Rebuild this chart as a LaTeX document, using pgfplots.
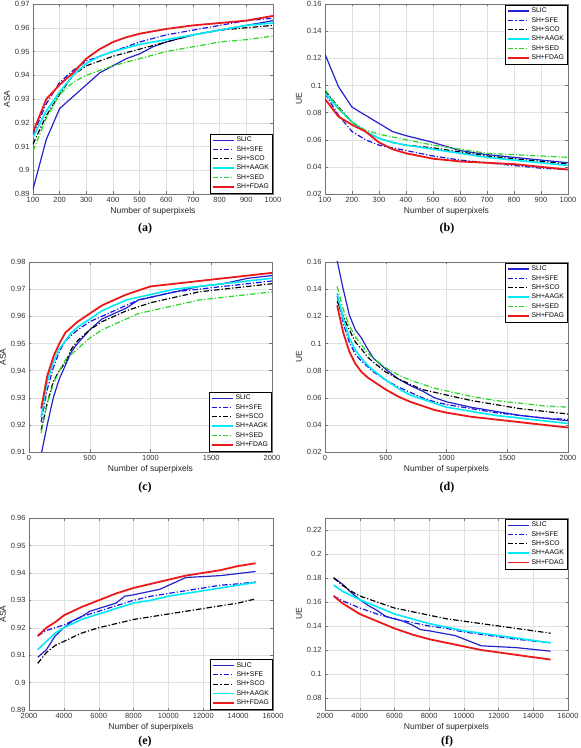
\documentclass[border=0pt]{standalone}
\usepackage{pgfplots}
\pgfplotsset{compat=1.18}
\usepackage{fontspec}
\setmainfont{Liberation Sans}
\newfontfamily\capfont{Liberation Serif}
\definecolor{cslic}{RGB}{35,35,205}
\definecolor{csfe}{RGB}{20,20,235}
\definecolor{csco}{RGB}{0,0,0}
\definecolor{caagk}{RGB}{0,235,245}
\definecolor{csed}{RGB}{40,215,40}
\definecolor{cfdag}{RGB}{235,25,25}
\tikzset{
 slic/.style={cslic, line width=1.2pt},
 sfe/.style={csfe, line width=1.2pt, dash pattern=on 5.5pt off 2pt on 1.2pt off 2pt},
 sco/.style={csco, line width=1.2pt, dash pattern=on 5.5pt off 2pt on 1.2pt off 2pt},
 aagk/.style={caagk, line width=1.6pt},
 sed/.style={csed, line width=1.2pt, dash pattern=on 5.5pt off 2pt on 1.2pt off 2pt},
 fdag/.style={cfdag, line width=1.8pt},
}
\pgfplotsset{panel/.style={
 scale only axis, width=243pt, height=190pt,
 grid=major, major grid style={black!12, line width=0.4pt},
 tick align=inside, major tick length=2.5pt,
 axis line style={black!55, line width=0.5pt},
 tick style={black!55, line width=0.4pt},
 ticklabel style={font=\fontsize{7.5}{8}\selectfont, text=black!80},
 label style={font=\fontsize{8.5}{9}\selectfont, text=black!85},
 /pgf/number format/assume math mode=true,
 scaled ticks=false,
 xticklabel style={/pgf/number format/.cd, fixed, 1000 sep={}},
 yticklabel style={/pgf/number format/.cd, fixed, precision=2},
 xlabel={Number of superpixels},
 xlabel style={yshift=2pt},
 ylabel style={yshift=-2pt},
 legend cell align=left,
 legend style={font=\fontsize{6.8}{7.5}\selectfont, draw=black, line width=0.4pt, fill=white,
   inner sep=1.5pt, row sep=-0.3pt, nodes={inner sep=1.7pt}},
 legend image code/.code={\draw[##1] (0pt,0pt) -- (21pt,0pt);},
}}
\begin{document}
\begin{tikzpicture}
\path[use as bounding box] (0,0) rectangle (581pt,748pt);
% (a)
\begin{axis}[panel, at={(33pt,554pt)}, anchor=south west, width=240pt, height=190pt,
 xmin=100, xmax=1000, ymin=0.89, ymax=0.97,
 xtick={100,200,...,1000}, ytick={0.89,0.9,0.91,0.92,0.93,0.94,0.95,0.96,0.97},
 ylabel={ASA}, legend pos=south east, legend style={at={(0.997,0.003)}}]
\addplot[slic] coordinates {(100,0.892)(150,0.913)(200,0.926)(250,0.931)(300,0.936)(350,0.941)(400,0.944)(450,0.947)(500,0.949)(550,0.952)(600,0.954)(700,0.957)(800,0.959)(900,0.961)(1000,0.963)};
\addplot[sfe] coordinates {(100,0.915)(150,0.928)(200,0.937)(250,0.942)(300,0.946)(350,0.948)(400,0.950)(500,0.954)(600,0.957)(700,0.959)(800,0.961)(900,0.963)(1000,0.964)};
\addplot[sco] coordinates {(100,0.911)(150,0.923)(200,0.932)(250,0.940)(300,0.944)(350,0.946)(400,0.948)(500,0.951)(600,0.954)(700,0.957)(800,0.959)(900,0.960)(1000,0.961)};
\addplot[aagk] coordinates {(100,0.914)(150,0.925)(200,0.933)(250,0.940)(300,0.945)(350,0.948)(400,0.950)(500,0.953)(600,0.955)(700,0.957)(800,0.959)(900,0.961)(1000,0.962)};
\addplot[sed] coordinates {(100,0.908)(150,0.922)(200,0.932)(250,0.937)(300,0.940)(350,0.942)(400,0.944)(500,0.947)(600,0.950)(700,0.952)(800,0.954)(900,0.955)(1000,0.9565)};
\addplot[fdag] coordinates {(100,0.916)(150,0.930)(200,0.936)(250,0.941)(300,0.947)(350,0.951)(400,0.954)(450,0.956)(500,0.9575)(600,0.9595)(700,0.961)(800,0.962)(900,0.963)(1000,0.965)};
\legend{SLIC,SH+SFE,SH+SCO,SH+AAGK,SH+SED,SH+FDAG}
\end{axis}
% (b)
\begin{axis}[panel, at={(325pt,554pt)}, anchor=south west,
 xmin=100, xmax=1000, ymin=0.02, ymax=0.16,
 xtick={100,200,...,1000}, ytick={0.02,0.04,0.06,0.08,0.1,0.12,0.14,0.16},
 ylabel={UE}, legend pos=north east, legend style={at={(0.997,0.997)}}]
\addplot[slic] coordinates {(100,0.123)(150,0.099)(200,0.084)(250,0.078)(300,0.072)(350,0.066)(400,0.063)(500,0.058)(600,0.052)(700,0.049)(800,0.047)(900,0.045)(1000,0.043)};
\addplot[sfe] coordinates {(100,0.094)(150,0.078)(200,0.066)(250,0.060)(300,0.056)(350,0.054)(400,0.052)(500,0.048)(600,0.045)(700,0.043)(800,0.041)(900,0.039)(1000,0.038)};
\addplot[sco] coordinates {(100,0.096)(150,0.084)(200,0.073)(250,0.066)(300,0.061)(350,0.058)(400,0.056)(500,0.054)(600,0.051)(700,0.048)(800,0.046)(900,0.044)(1000,0.042)};
\addplot[aagk] coordinates {(100,0.094)(150,0.083)(200,0.073)(250,0.066)(300,0.061)(350,0.058)(400,0.056)(500,0.053)(600,0.050)(700,0.047)(800,0.045)(900,0.043)(1000,0.041)};
\addplot[sed] coordinates {(100,0.097)(150,0.083)(200,0.073)(250,0.067)(300,0.064)(350,0.062)(400,0.060)(500,0.056)(600,0.053)(700,0.050)(800,0.049)(900,0.048)(1000,0.047)};
\addplot[fdag] coordinates {(100,0.090)(150,0.077)(200,0.071)(250,0.066)(300,0.058)(350,0.053)(400,0.050)(500,0.046)(600,0.044)(700,0.043)(800,0.042)(900,0.040)(1000,0.038)};
\legend{SLIC,SH+SFE,SH+SCO,SH+AAGK,SH+SED,SH+FDAG}
\end{axis}
% (c)
\begin{axis}[panel, at={(29pt,296pt)}, anchor=south west,
 xmin=0, xmax=2000, ymin=0.91, ymax=0.98,
 xtick={0,500,1000,1500,2000}, ytick={0.91,0.92,0.93,0.94,0.95,0.96,0.97,0.98},
 ylabel={ASA}, legend pos=south east, legend style={at={(0.997,0.003)}}]
\addplot[slic] coordinates {(100,0.909)(150,0.920)(200,0.930)(250,0.937)(300,0.942)(350,0.947)(400,0.950)(500,0.955)(600,0.959)(700,0.961)(800,0.963)(900,0.966)(1000,0.967)(1200,0.969)(1400,0.971)(1600,0.972)(1800,0.974)(2000,0.975)};
\addplot[sfe] coordinates {(100,0.921)(150,0.933)(200,0.941)(250,0.947)(300,0.951)(350,0.953)(400,0.955)(500,0.958)(600,0.960)(700,0.962)(800,0.964)(900,0.966)(1000,0.967)(1200,0.969)(1400,0.970)(1600,0.971)(1800,0.972)(2000,0.973)};
\addplot[sco] coordinates {(100,0.918)(150,0.928)(200,0.936)(250,0.940)(300,0.943)(350,0.948)(400,0.951)(500,0.955)(600,0.958)(700,0.960)(800,0.962)(900,0.9635)(1000,0.965)(1200,0.967)(1400,0.969)(1600,0.970)(1800,0.971)(2000,0.972)};
\addplot[aagk] coordinates {(100,0.923)(150,0.936)(200,0.943)(250,0.948)(300,0.951)(350,0.954)(400,0.956)(500,0.959)(600,0.962)(700,0.964)(800,0.966)(900,0.967)(1000,0.968)(1200,0.970)(1400,0.971)(1600,0.972)(1800,0.973)(2000,0.974)};
\addplot[sed] coordinates {(100,0.917)(150,0.928)(200,0.935)(250,0.940)(300,0.944)(350,0.946)(400,0.948)(500,0.952)(600,0.955)(700,0.957)(800,0.959)(900,0.961)(1000,0.962)(1200,0.964)(1400,0.966)(1600,0.967)(1800,0.968)(2000,0.969)};
\addplot[fdag] coordinates {(100,0.926)(150,0.938)(200,0.945)(250,0.950)(300,0.954)(350,0.956)(400,0.958)(500,0.961)(600,0.964)(700,0.966)(800,0.968)(900,0.9695)(1000,0.971)(1200,0.972)(1400,0.973)(1600,0.974)(1800,0.975)(2000,0.976)};
\legend{SLIC,SH+SFE,SH+SCO,SH+AAGK,SH+SED,SH+FDAG}
\end{axis}
% (d)
\begin{axis}[panel, at={(325pt,296pt)}, anchor=south west,
 xmin=0, xmax=2000, ymin=0.02, ymax=0.16,
 xtick={0,500,1000,1500,2000}, ytick={0.02,0.04,0.06,0.08,0.1,0.12,0.14,0.16},
 ylabel={UE}, legend pos=north east, legend style={at={(0.997,0.997)}}]
\addplot[slic] coordinates {(100,0.161)(150,0.140)(200,0.121)(250,0.110)(300,0.104)(350,0.096)(400,0.089)(500,0.081)(600,0.074)(700,0.069)(800,0.065)(900,0.060)(1000,0.057)(1200,0.053)(1400,0.050)(1600,0.047)(1800,0.045)(2000,0.043)};
\addplot[sfe] coordinates {(100,0.135)(150,0.115)(200,0.101)(250,0.092)(300,0.087)(350,0.083)(400,0.079)(500,0.073)(600,0.068)(700,0.064)(800,0.060)(900,0.057)(1000,0.055)(1200,0.052)(1400,0.049)(1600,0.047)(1800,0.045)(2000,0.044)};
\addplot[sco] coordinates {(100,0.131)(150,0.120)(200,0.110)(250,0.101)(300,0.096)(350,0.090)(400,0.086)(500,0.079)(600,0.074)(700,0.070)(800,0.066)(900,0.064)(1000,0.062)(1200,0.058)(1400,0.055)(1600,0.052)(1800,0.050)(2000,0.048)};
\addplot[aagk] coordinates {(100,0.137)(150,0.118)(200,0.104)(250,0.095)(300,0.089)(350,0.084)(400,0.080)(500,0.073)(600,0.067)(700,0.062)(800,0.059)(900,0.056)(1000,0.053)(1200,0.050)(1400,0.047)(1600,0.045)(1800,0.043)(2000,0.041)};
\addplot[sed] coordinates {(100,0.142)(150,0.125)(200,0.113)(250,0.105)(300,0.099)(350,0.093)(400,0.089)(500,0.082)(600,0.077)(700,0.073)(800,0.070)(900,0.067)(1000,0.065)(1200,0.061)(1400,0.058)(1600,0.056)(1800,0.054)(2000,0.053)};
\addplot[fdag] coordinates {(100,0.128)(150,0.108)(200,0.094)(250,0.085)(300,0.079)(350,0.075)(400,0.072)(500,0.066)(600,0.061)(700,0.057)(800,0.054)(900,0.051)(1000,0.049)(1200,0.046)(1400,0.044)(1600,0.042)(1800,0.040)(2000,0.038)};
\legend{SLIC,SH+SFE,SH+SCO,SH+AAGK,SH+SED,SH+FDAG}
\end{axis}
% (e)
\begin{axis}[panel, at={(29pt,38pt)}, anchor=south west, width=244pt, height=192pt,
 xmin=2000, xmax=16000, ymin=0.89, ymax=0.96,
 xtick={2000,4000,...,16000}, ytick={0.89,0.9,0.91,0.92,0.93,0.94,0.95,0.96},
 ylabel={ASA}, legend pos=south east, legend style={at={(0.997,0.003)}}]
\addplot[slic] coordinates {(2500,0.9092)(3000,0.912)(3500,0.917)(4000,0.920)(4500,0.9225)(5000,0.924)(5500,0.926)(6000,0.927)(6500,0.928)(7000,0.929)(7500,0.9315)(8000,0.932)(9500,0.934)(11000,0.9383)(13000,0.939)(15000,0.9405)};
\addplot[sfe] coordinates {(2500,0.917)(3000,0.919)(4000,0.921)(5000,0.924)(6000,0.926)(7000,0.928)(8000,0.930)(9000,0.9315)(10000,0.9325)(11000,0.9335)(12000,0.9345)(13000,0.9355)(14000,0.936)(15000,0.9367)};
\addplot[sco] coordinates {(2500,0.907)(3000,0.911)(3500,0.9135)(4000,0.915)(5000,0.918)(6000,0.920)(7000,0.9215)(8000,0.923)(9000,0.924)(10000,0.925)(11000,0.926)(12000,0.927)(13000,0.928)(14000,0.929)(15000,0.9305)};
\addplot[aagk] coordinates {(2500,0.912)(3000,0.915)(3500,0.918)(4000,0.920)(5000,0.923)(6000,0.925)(7000,0.927)(8000,0.929)(9000,0.930)(10000,0.9315)(11000,0.9325)(12000,0.9335)(13000,0.9345)(14000,0.9355)(15000,0.9365)};
\addplot[fdag] coordinates {(2500,0.917)(3000,0.920)(3500,0.922)(4000,0.9245)(5000,0.9275)(6000,0.930)(7000,0.9325)(8000,0.9345)(9000,0.936)(10000,0.9375)(11000,0.939)(12000,0.940)(13000,0.941)(14000,0.9425)(15000,0.9435)};
\legend{SLIC,SH+SFE,SH+SCO,SH+AAGK,SH+FDAG}
\end{axis}
% (f)
\begin{axis}[panel, at={(325pt,38pt)}, anchor=south west, width=243pt, height=192pt,
 xmin=2000, xmax=16000, ymin=0.07, ymax=0.23,
 xtick={2000,4000,...,16000}, ytick={0.08,0.1,0.12,0.14,0.16,0.18,0.2,0.22},
 ylabel={UE}, legend pos=north east, legend style={at={(0.997,0.997)}}]
\addplot[slic] coordinates {(2500,0.1803)(3000,0.175)(3500,0.168)(4000,0.162)(4500,0.157)(5000,0.153)(5500,0.148)(6000,0.146)(6500,0.144)(7000,0.141)(7500,0.137)(8000,0.136)(9500,0.132)(11000,0.1235)(13000,0.122)(15000,0.119)};
\addplot[sfe] coordinates {(2500,0.165)(3000,0.161)(4000,0.155)(5000,0.150)(6000,0.146)(7000,0.143)(8000,0.140)(9000,0.138)(10000,0.135)(11000,0.133)(12000,0.131)(13000,0.129)(14000,0.1275)(15000,0.126)};
\addplot[sco] coordinates {(2500,0.180)(3000,0.174)(3500,0.169)(4000,0.165)(5000,0.160)(6000,0.155)(7000,0.152)(8000,0.149)(9000,0.146)(10000,0.144)(11000,0.142)(12000,0.140)(13000,0.138)(14000,0.136)(15000,0.134)};
\addplot[aagk] coordinates {(2500,0.174)(3000,0.169)(4000,0.162)(5000,0.156)(6000,0.150)(7000,0.146)(8000,0.142)(9000,0.139)(10000,0.136)(11000,0.134)(12000,0.132)(13000,0.130)(14000,0.128)(15000,0.126)};
\addplot[fdag] coordinates {(2500,0.165)(3000,0.159)(4000,0.150)(5000,0.144)(6000,0.138)(7000,0.133)(8000,0.129)(9000,0.126)(10000,0.123)(11000,0.120)(12000,0.118)(13000,0.116)(14000,0.114)(15000,0.112)};
\legend{SLIC,SH+SFE,SH+SCO,SH+AAGK,SH+FDAG}
\end{axis}
\node[font=\capfont\fontsize{12}{14}\selectfont\bfseries] at (145pt,519pt) {(a)};
\node[font=\capfont\fontsize{12}{14}\selectfont\bfseries] at (447pt,519pt) {(b)};
\node[font=\capfont\fontsize{12}{14}\selectfont\bfseries] at (145pt,260pt) {(c)};
\node[font=\capfont\fontsize{12}{14}\selectfont\bfseries] at (447pt,260pt) {(d)};
\node[font=\capfont\fontsize{12}{14}\selectfont\bfseries] at (145pt,6pt) {(e)};
\node[font=\capfont\fontsize{12}{14}\selectfont\bfseries] at (447pt,6pt) {(f)};
\end{tikzpicture}
\end{document}
